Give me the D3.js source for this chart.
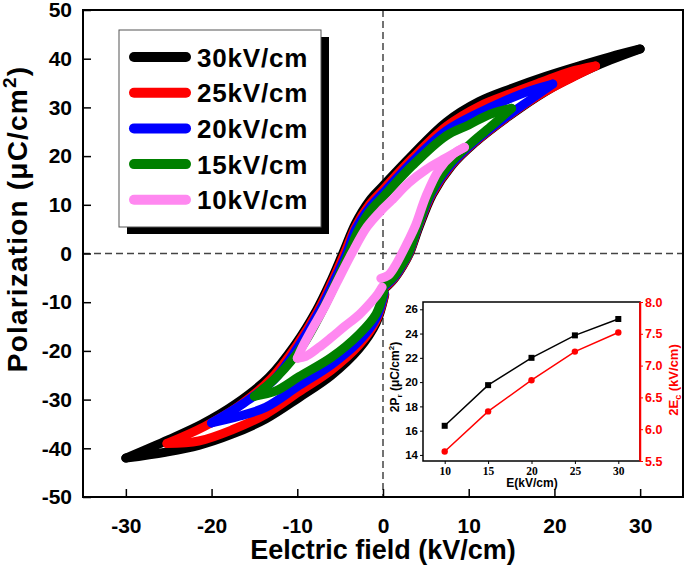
<!DOCTYPE html>
<html>
<head>
<meta charset="utf-8">
<script src="https://cdn.jsdelivr.net/npm/d3@7"></script>
<style>
  body { margin: 0; background: #fff; }
  text { font-family: "Liberation Sans", Arial, sans-serif; font-weight: bold; }
</style>
</head>
<body>
<script>
// P-E loops, [E (kV/cm), P (uC/cm2)], start at origin -> +Emax -> -Emax -> back to 0
const loop30 = [[0.2,-7.2],[1.3,-5.2],[2.3,-2.6],[3.1,0],[4.2,5.4],[5.8,12.2],[8.0,18.0],[10.7,22.7],[14.7,28.2],[19,33.3],[23,37.0],[26.5,39.7],[30,42],
  [26.5,40.4],[23,38.6],[19,36.4],[15,33.9],[11.2,31.2],[7.4,27],[3.4,20.2],[0,13.9],[-1.6,10.8],[-3.2,6.2],[-4.7,0],[-6.2,-6.1],[-7.8,-11.8],[-10.2,-18.6],[-13.3,-25.4],[-17.2,-30.9],[-21.1,-35],[-25,-38.2],[-30,-42],
  [-25.4,-40.8],[-21.5,-39.4],[-17.6,-37.1],[-13.7,-34],[-9.8,-29.6],[-6,-25.0],[-2.8,-19.6],[-0.8,-14.3],[0.2,-8.5]];
const loop25 = [[0.2,-7.0],[1.3,-5.1],[2.25,-2.6],[3.05,0],[4.1,5.4],[5.7,12.2],[7.9,18.0],[10.6,22.7],[14.6,28.2],[18.5,32.8],[21.8,35.9],[24.8,38.5],
  [21.8,37.3],[18.5,35.2],[15,32.9],[11.2,30.2],[7.4,26.1],[3.4,19.5],[0,13.1],[-1.6,10.0],[-3.2,5.5],[-4.5,0],[-6.0,-6.0],[-7.6,-11.8],[-10,-18.7],[-13,-25.6],[-16.8,-31.3],[-20.8,-35.5],[-25.2,-39.0],
  [-21.5,-38.5],[-17.6,-36.2],[-13.7,-33],[-9.8,-28.4],[-6,-23.9],[-2.8,-18.8],[-0.8,-13.8],[0.2,-8.3]];
const loop20 = [[0.15,-6.8],[1.25,-5.0],[2.2,-2.5],[3.0,0],[4.05,5.4],[5.6,12.2],[7.8,18.0],[10.5,22.7],[14.4,28.1],[17.2,31.6],[19.8,34.8],
  [17,33.3],[14,31.2],[11.2,28.9],[7.4,25.2],[3.4,18.8],[0,12.4],[-1.6,9.3],[-3.2,4.9],[-4.25,0],[-5.8,-6.0],[-7.4,-11.8],[-9.8,-18.9],[-12.7,-25.9],[-16.3,-30.8],[-20,-34.8],
  [-16.8,-33.4],[-13.7,-31.6],[-9.8,-27.1],[-6,-22.8],[-2.8,-18],[-0.8,-13.3],[0.15,-8.1]];
const loop15 = [[0.1,-6.6],[1.2,-4.9],[2.15,-2.4],[2.95,0],[4.0,5.4],[5.5,12.2],[7.6,18.0],[10.3,22.7],[12.8,26.4],[15,29.8],
  [12.5,28.6],[10,26.4],[7.3,24.1],[3.4,18.0],[0,11.6],[-1.6,8.5],[-3.0,4.3],[-4.0,0],[-5.5,-6.0],[-7.1,-11.8],[-9.4,-19],[-12.3,-25.2],[-15,-29.3],
  [-12.5,-28.2],[-9.8,-25.3],[-6,-21.3],[-2.8,-16.6],[-0.8,-12.4],[0.1,-7.9]];
const loop10 = [[-0.25,-5.1],[0.6,-4.5],[1.4,-2.6],[2.2,0],[3,2.8],[3.8,5.8],[5,11.7],[6.5,17.1],[8.2,20.4],[9.5,21.8],
  [7,19.3],[5,17.2],[3,14.5],[1,10.9],[0,9.2],[-1.85,5.5],[-3.65,0],[-5.4,-6],[-7.0,-11.6],[-8.3,-15.6],[-9.4,-19.2],[-10,-21.5],
  [-9,-21.1],[-7.5,-19.3],[-6,-17.2],[-4.5,-15.0],[-2.8,-12.6],[-1.5,-10.2],[-0.6,-8.3],[-0.1,-6.9]];

const loops = [loop30, loop25, loop20, loop15, loop10];
const loopLabels = ["30kV/cm", "25kV/cm", "20kV/cm", "15kV/cm", "10kV/cm"];
const loopColors = ["#000000", "#ff0000", "#0000ff", "#008000", "#ff88f0"];

const xTicks = [-30, -20, -10, 0, 10, 20, 30];
const yTicks = [-50, -40, -30, -20, -10, 0, 10, 20, 30, 40, 50];

// inset: 2Pr and 2Ec vs field amplitude
const insetField = [10, 15, 20, 25, 30];
const inset2Pr = [16.4, 19.75, 22.0, 23.85, 25.2];
const inset2Ec = [5.65, 6.28, 6.77, 7.22, 7.52];
const insetLeftTicks = [14, 16, 18, 20, 22, 24, 26];
const insetRightTicks = [5.5, 6.0, 6.5, 7.0, 7.5, 8.0];

const svg = d3.select("body").append("svg")
  .attr("width", 685)
  .attr("height", 565);

const x = d3.scaleLinear().domain([-35, 35]).range([83, 683]);
const y = d3.scaleLinear().domain([-50, 50]).range([497, 10]);

// dashed zero lines
svg.append("line")
  .attr("x1", x(-35)).attr("x2", x(35))
  .attr("y1", y(0)).attr("y2", y(0))
  .attr("stroke", "#444").attr("stroke-width", 1.5).attr("stroke-dasharray", "7,4");
svg.append("line")
  .attr("x1", x(0)).attr("x2", x(0))
  .attr("y1", y(50)).attr("y2", y(-50))
  .attr("stroke", "#444").attr("stroke-width", 1.5).attr("stroke-dasharray", "7,4");

// loops, split into branches at the tips
const line = d3.line()
  .x((d) => x(d[0]))
  .y((d) => y(d[1]))
  .curve(d3.curveCatmullRom.alpha(0.5));

loops.forEach((pts, i) => {
  const iMax = d3.maxIndex(pts, (d) => d[0]);
  const iMin = d3.minIndex(pts, (d) => d[0]);
  const parts = [pts.slice(0, iMax + 1), pts.slice(iMax, iMin + 1), pts.slice(iMin)];
  parts.forEach((p) => {
    svg.append("path")
      .attr("d", line(p))
      .attr("fill", "none")
      .attr("stroke", loopColors[i])
      .attr("stroke-width", 9)
      .attr("stroke-linecap", "round")
      .attr("stroke-linejoin", "round");
  });
});

// main axes (plain hyphen for negatives, like the original)
const fmt = (d) => String(d);
const xAxis = d3.axisBottom(x).tickValues(xTicks).tickFormat(fmt).tickSizeInner(-8).tickSizeOuter(0).tickPadding(21);
const yAxis = d3.axisLeft(y).tickValues(yTicks).tickFormat(fmt).tickSizeInner(-8).tickSizeOuter(0).tickPadding(11);

const gx = svg.append("g").attr("transform", `translate(0, ${y(-50)})`).call(xAxis);
const gy = svg.append("g").attr("transform", `translate(${x(-35)}, 0)`).call(yAxis);
[gx, gy].forEach((g) => {
  g.select(".domain").remove();
  g.selectAll(".tick line").attr("stroke-width", 1.5);
  g.selectAll(".tick text").style("font-size", "21px").attr("fill", "#000");
});

svg.append("rect")
  .attr("x", x(-35)).attr("y", y(50))
  .attr("width", x(35) - x(-35)).attr("height", y(-50) - y(50))
  .attr("fill", "none").attr("stroke", "#000").attr("stroke-width", 2);

svg.append("text")
  .attr("x", (x(-35) + x(35)) / 2)
  .attr("y", 559)
  .attr("text-anchor", "middle")
  .style("font-size", "27px")
  .text("Eelctric field (kV/cm)");

const yTitle = svg.append("text")
  .attr("transform", "translate(27, 219) rotate(-90)")
  .attr("text-anchor", "middle")
  .style("font-size", "28px")
  .style("letter-spacing", "1.2px");
yTitle.append("tspan").text("Polarization (μC/cm");
yTitle.append("tspan").attr("dy", -11).style("font-size", "19px").text("2");
yTitle.append("tspan").attr("dy", 11).text(")");

// legend
const legend = svg.append("g");
legend.append("rect")
  .attr("x", 127).attr("y", 37).attr("width", 202).attr("height", 197)
  .attr("fill", "#000");
legend.append("rect")
  .attr("x", 119).attr("y", 30).attr("width", 202).attr("height", 197)
  .attr("fill", "#fff").attr("stroke", "#555").attr("stroke-width", 1);

loopLabels.forEach((label, i) => {
  const cy = 57 + i * 35.7;
  legend.append("line")
    .attr("x1", 134).attr("x2", 186)
    .attr("y1", cy).attr("y2", cy)
    .attr("stroke", loopColors[i])
    .attr("stroke-width", 10)
    .attr("stroke-linecap", "round");
  legend.append("text")
    .attr("x", 197).attr("y", cy + 9.5)
    .style("font-size", "26px")
    .style("letter-spacing", "0.8px")
    .text(label);
});

// inset
const xi = d3.scaleLinear().domain([7.5, 32.5]).range([423, 640]);
const yiL = d3.scaleLinear().domain([13.5, 26.6]).range([461, 302]);
const yiR = d3.scaleLinear().domain([5.5, 8.0]).range([461, 302]);

svg.append("rect")
  .attr("x", 423).attr("y", 302).attr("width", 217).attr("height", 159)
  .attr("fill", "#fff").attr("stroke", "#000").attr("stroke-width", 1.5);

const gxi = svg.append("g").attr("transform", "translate(0, 461)")
  .call(d3.axisBottom(xi).tickValues(insetField).tickSize(3).tickSizeOuter(0).tickPadding(3));
gxi.select(".domain").remove();
gxi.selectAll(".tick text")
  .style("font-family", "'Liberation Serif', 'Times New Roman', serif")
  .style("font-size", "11.5px");

const gyl = svg.append("g").attr("transform", "translate(423, 0)")
  .call(d3.axisLeft(yiL).tickValues(insetLeftTicks).tickSize(3).tickSizeOuter(0).tickPadding(2));
gyl.select(".domain").remove();
gyl.selectAll(".tick text").style("font-size", "11.5px");

const gyr = svg.append("g").attr("transform", "translate(640, 0)")
  .call(d3.axisRight(yiR).tickValues(insetRightTicks).tickFormat(d3.format(".1f")).tickSize(3).tickSizeOuter(0).tickPadding(2));
gyr.select(".domain").attr("stroke", "#ff0000").attr("stroke-width", 1.5);
gyr.selectAll(".tick line").attr("stroke", "#ff0000");
gyr.selectAll(".tick text").attr("fill", "#ff0000").style("font-size", "12.5px");

svg.append("line")
  .attr("x1", 640).attr("x2", 640).attr("y1", 302).attr("y2", 461)
  .attr("stroke", "#ff0000").attr("stroke-width", 1.5);

const prLine = d3.line().x((d, i) => xi(insetField[i])).y((d) => yiL(d));
const ecLine = d3.line().x((d, i) => xi(insetField[i])).y((d) => yiR(d));

svg.append("path").attr("d", prLine(inset2Pr))
  .attr("fill", "none").attr("stroke", "#000").attr("stroke-width", 1.5);
svg.selectAll(".pr")
  .data(inset2Pr).enter().append("rect")
  .attr("class", "pr")
  .attr("x", (d, i) => xi(insetField[i]) - 3)
  .attr("y", (d) => yiL(d) - 3)
  .attr("width", 6).attr("height", 6)
  .attr("fill", "#000");

svg.append("path").attr("d", ecLine(inset2Ec))
  .attr("fill", "none").attr("stroke", "#ff0000").attr("stroke-width", 1.5);
svg.selectAll(".ec")
  .data(inset2Ec).enter().append("circle")
  .attr("class", "ec")
  .attr("cx", (d, i) => xi(insetField[i]))
  .attr("cy", (d) => yiR(d))
  .attr("r", 3.2)
  .attr("fill", "#ff0000");

svg.append("text")
  .attr("x", 532).attr("y", 487)
  .attr("text-anchor", "middle")
  .style("font-size", "12px")
  .text("E(kV/cm)");

const prTitle = svg.append("text")
  .attr("transform", "translate(399, 377) rotate(-90)")
  .attr("text-anchor", "middle")
  .style("font-size", "12px");
prTitle.append("tspan").text("2P");
prTitle.append("tspan").attr("dy", 3).style("font-size", "8px").text("r");
prTitle.append("tspan").attr("dy", -3).text(" (μC/cm");
prTitle.append("tspan").attr("dy", -5).style("font-size", "8px").text("2");
prTitle.append("tspan").attr("dy", 5).text(")");

const ecTitle = svg.append("text")
  .attr("transform", "translate(678, 380) rotate(-90)")
  .attr("text-anchor", "middle")
  .attr("fill", "#ff0000")
  .style("font-size", "13px");
ecTitle.append("tspan").text("2E");
ecTitle.append("tspan").attr("dy", 3).style("font-size", "9px").text("c");
ecTitle.append("tspan").attr("dy", -3).text(" (kV/cm)");
</script>
</body>
</html>
